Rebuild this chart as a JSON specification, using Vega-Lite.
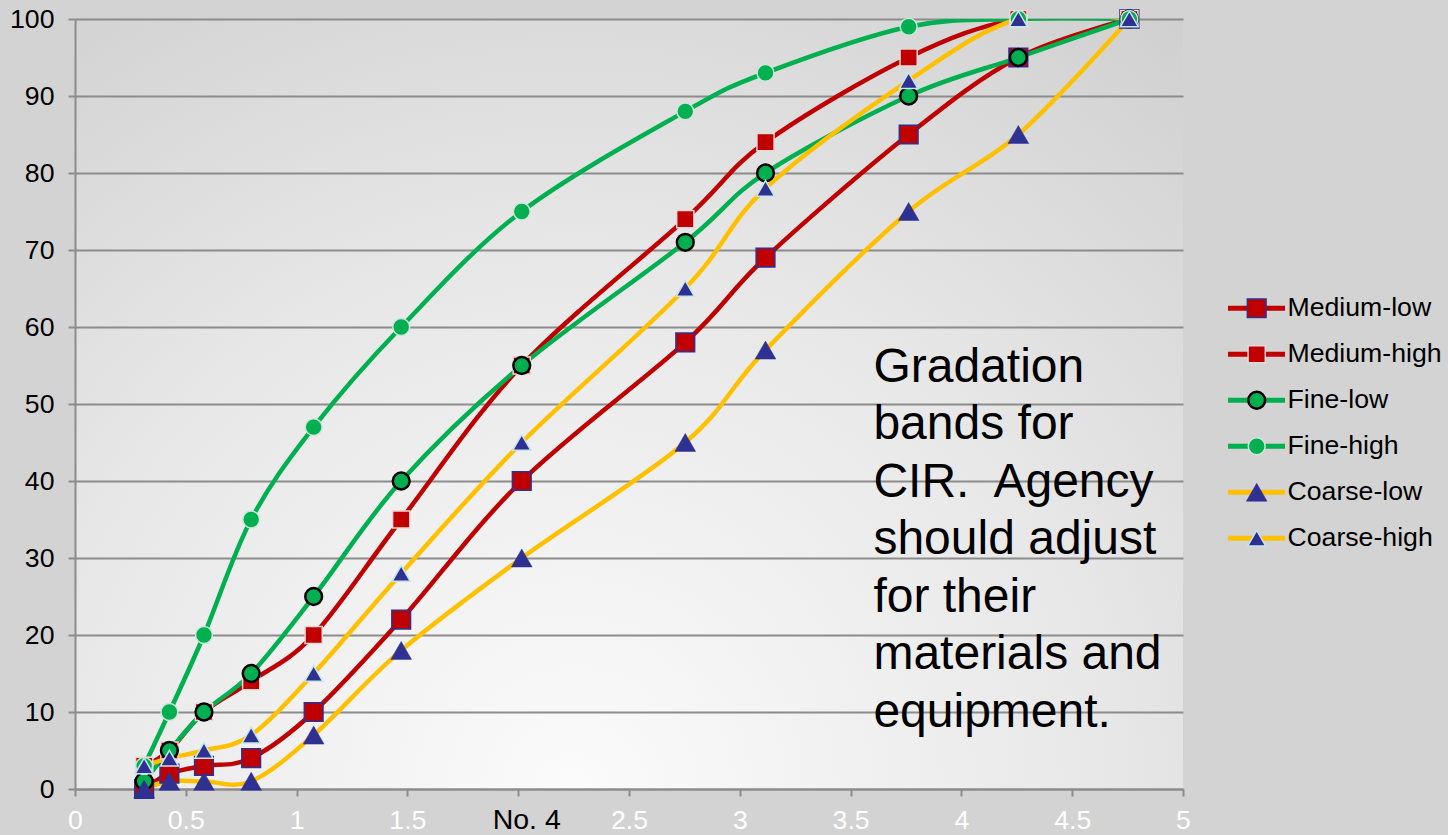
{
  "$schema": "https://vega.github.io/schema/vega-lite/v6.json",
  "width": 1108,
  "height": 770,
  "autosize": {"type": "none"},
  "padding": {"left": 75, "top": 19, "right": 265, "bottom": 46},
  "background": "#d3d3d3",
  "view": {
    "stroke": null,
    "fill": {
      "gradient": "radial",
      "x1": 0.45, "y1": 0.85, "r1": 0,
      "x2": 0.45, "y2": 0.85, "r2": 1.05,
      "stops": [
        {"offset": 0, "color": "#fbfbfb"},
        {"offset": 0.45, "color": "#e8e8e8"},
        {"offset": 1, "color": "#c6c6c6"}
      ]
    }
  },
  "config": {"font": "Liberation Sans"},
  "data": {
    "values": [
      {"series": "Medium-low", "x": 0.312, "y": 0},
      {"series": "Medium-low", "x": 0.426, "y": 2},
      {"series": "Medium-low", "x": 0.582, "y": 3},
      {"series": "Medium-low", "x": 0.795, "y": 4},
      {"series": "Medium-low", "x": 1.077, "y": 10},
      {"series": "Medium-low", "x": 1.472, "y": 22},
      {"series": "Medium-low", "x": 2.016, "y": 40},
      {"series": "Medium-low", "x": 2.754, "y": 58},
      {"series": "Medium-low", "x": 3.116, "y": 69},
      {"series": "Medium-low", "x": 3.762, "y": 85},
      {"series": "Medium-low", "x": 4.257, "y": 95},
      {"series": "Medium-low", "x": 4.758, "y": 100},
      {"series": "Medium-high", "x": 0.312, "y": 3},
      {"series": "Medium-high", "x": 0.426, "y": 5},
      {"series": "Medium-high", "x": 0.582, "y": 10},
      {"series": "Medium-high", "x": 0.795, "y": 14},
      {"series": "Medium-high", "x": 1.077, "y": 20},
      {"series": "Medium-high", "x": 1.472, "y": 35},
      {"series": "Medium-high", "x": 2.016, "y": 55},
      {"series": "Medium-high", "x": 2.754, "y": 74},
      {"series": "Medium-high", "x": 3.116, "y": 84},
      {"series": "Medium-high", "x": 3.762, "y": 95},
      {"series": "Medium-high", "x": 4.257, "y": 100},
      {"series": "Medium-high", "x": 4.758, "y": 100},
      {"series": "Fine-low", "x": 0.312, "y": 1},
      {"series": "Fine-low", "x": 0.426, "y": 5},
      {"series": "Fine-low", "x": 0.582, "y": 10},
      {"series": "Fine-low", "x": 0.795, "y": 15},
      {"series": "Fine-low", "x": 1.077, "y": 25},
      {"series": "Fine-low", "x": 1.472, "y": 40},
      {"series": "Fine-low", "x": 2.016, "y": 55},
      {"series": "Fine-low", "x": 2.754, "y": 71},
      {"series": "Fine-low", "x": 3.116, "y": 80},
      {"series": "Fine-low", "x": 3.762, "y": 90},
      {"series": "Fine-low", "x": 4.257, "y": 95},
      {"series": "Fine-low", "x": 4.758, "y": 100},
      {"series": "Fine-high", "x": 0.312, "y": 3},
      {"series": "Fine-high", "x": 0.426, "y": 10},
      {"series": "Fine-high", "x": 0.582, "y": 20},
      {"series": "Fine-high", "x": 0.795, "y": 35},
      {"series": "Fine-high", "x": 1.077, "y": 47},
      {"series": "Fine-high", "x": 1.472, "y": 60},
      {"series": "Fine-high", "x": 2.016, "y": 75},
      {"series": "Fine-high", "x": 2.754, "y": 88},
      {"series": "Fine-high", "x": 3.116, "y": 93},
      {"series": "Fine-high", "x": 3.762, "y": 99},
      {"series": "Fine-high", "x": 4.257, "y": 100},
      {"series": "Fine-high", "x": 4.758, "y": 100},
      {"series": "Coarse-low", "x": 0.312, "y": 0},
      {"series": "Coarse-low", "x": 0.426, "y": 1},
      {"series": "Coarse-low", "x": 0.582, "y": 1},
      {"series": "Coarse-low", "x": 0.795, "y": 1},
      {"series": "Coarse-low", "x": 1.077, "y": 7},
      {"series": "Coarse-low", "x": 1.472, "y": 18},
      {"series": "Coarse-low", "x": 2.016, "y": 30},
      {"series": "Coarse-low", "x": 2.754, "y": 45},
      {"series": "Coarse-low", "x": 3.116, "y": 57},
      {"series": "Coarse-low", "x": 3.762, "y": 75},
      {"series": "Coarse-low", "x": 4.257, "y": 85},
      {"series": "Coarse-low", "x": 4.758, "y": 100},
      {"series": "Coarse-high", "x": 0.312, "y": 3},
      {"series": "Coarse-high", "x": 0.426, "y": 4},
      {"series": "Coarse-high", "x": 0.582, "y": 5},
      {"series": "Coarse-high", "x": 0.795, "y": 7},
      {"series": "Coarse-high", "x": 1.077, "y": 15},
      {"series": "Coarse-high", "x": 1.472, "y": 28},
      {"series": "Coarse-high", "x": 2.016, "y": 45},
      {"series": "Coarse-high", "x": 2.754, "y": 65},
      {"series": "Coarse-high", "x": 3.116, "y": 78},
      {"series": "Coarse-high", "x": 3.762, "y": 92},
      {"series": "Coarse-high", "x": 4.257, "y": 100},
      {"series": "Coarse-high", "x": 4.758, "y": 100}
    ]
  },
  "layer": [
    {
      "mark": {"type": "line", "interpolate": "cardinal", "strokeWidth": 4.5, "strokeCap": "round", "strokeJoin": "round", "clip": true},
      "encoding": {
        "x": {
          "field": "x", "type": "quantitative",
          "scale": {"domain": [0, 5], "nice": false, "zero": false},
          "axis": {
            "title": null,
            "values": [0, 0.5, 1, 1.5, 2, 2.5, 3, 3.5, 4, 4.5, 5],
            "labelExpr": "datum.value == 2 ? 'No. 4' : '' + datum.value",
            "labelColor": {"condition": {"test": "datum.value == 2", "value": "#000000"}, "value": "#ffffff"},
            "labelFontSize": {"condition": {"test": "datum.value == 2", "value": 28.5}, "value": 26.67},
            "labelOffset": {"condition": {"test": "datum.value == 2", "value": 8}, "value": 0},
            "labelBaseline": "alphabetic",
            "labelPadding": 32,
            "labelFlush": false,
            "labelOverlap": false,
            "grid": false,
            "tickSize": 7,
            "tickWidth": 2,
            "tickColor": "#8c8c8c",
            "domainColor": "#8c8c8c",
            "domainWidth": 2
          }
        },
        "y": {
          "field": "y", "type": "quantitative",
          "scale": {"domain": [0, 100], "nice": false},
          "axis": {
            "title": null,
            "values": [0, 10, 20, 30, 40, 50, 60, 70, 80, 90, 100],
            "labelFontSize": 26.67,
            "labelColor": "#000000",
            "labelPadding": 14,
            "labelFlush": false,
            "labelOverlap": false,
            "grid": true,
            "gridColor": "#8c8c8c",
            "gridWidth": 2,
            "tickSize": 7,
            "tickWidth": 2,
            "tickColor": "#8c8c8c",
            "domainColor": "#8c8c8c",
            "domainWidth": 2
          }
        },
        "stroke": {
          "field": "series", "type": "nominal",
          "scale": {
            "domain": ["Medium-low", "Medium-high", "Fine-low", "Fine-high", "Coarse-low", "Coarse-high"],
            "range": ["#C00000", "#C00000", "#00B050", "#00B050", "#FFC000", "#FFC000"]
          },
          "legend": {
            "title": null,
            "orient": "none",
            "direction": "vertical",
            "legendX": 1150.5,
            "legendY": 266.5,
            "padding": 0,
            "symbolType": "stroke",
            "symbolSize": 3249,
            "symbolStrokeWidth": 5,
            "clipHeight": 45.5,
            "rowPadding": 0,
            "labelFontSize": 26.67,
            "labelColor": "#000000",
            "labelOffset": 0,
            "labelLimit": 300
          }
        }
      }
    },
    {
      "mark": {"type": "point", "filled": true, "opacity": 1},
      "encoding": {
        "x": {"field": "x", "type": "quantitative", "scale": {"domain": [0, 5], "nice": false, "zero": false}},
        "y": {"field": "y", "type": "quantitative", "scale": {"domain": [0, 100], "nice": false}},
        "shape": {
          "field": "series", "type": "nominal",
          "scale": {
            "domain": ["Medium-low", "Medium-high", "Fine-low", "Fine-high", "Coarse-low", "Coarse-high"],
            "range": ["square", "square", "circle", "circle", "triangle-up", "triangle-up"]
          },
          "legend": {
            "title": null,
            "orient": "none",
            "direction": "vertical",
            "legendX": 1169.7,
            "legendY": 266.5,
            "padding": 0,
            "clipHeight": 45.5,
            "rowPadding": 0,
            "symbolOffset": 0,
            "labelFontSize": 24,
            "labelOpacity": 0,
            "labelExpr": "''"
          }
        },
        "fill": {
          "field": "series", "type": "nominal",
          "scale": {
            "domain": ["Medium-low", "Medium-high", "Fine-low", "Fine-high", "Coarse-low", "Coarse-high"],
            "range": ["#C00000", "#C00000", "#00B050", "#00B050", "#2E3192", "#2E3192"]
          }
        },
        "stroke": {
          "field": "series", "type": "nominal",
          "scale": {
            "domain": ["Medium-low", "Medium-high", "Fine-low", "Fine-high", "Coarse-low", "Coarse-high"],
            "range": ["#2E3192", "#ecd8d8", "#000000", "#cde6d9", "#2E3192", "#c5e6ee"]
          }
        },
        "size": {
          "field": "series", "type": "nominal",
          "scale": {
            "type": "ordinal",
            "domain": ["Medium-low", "Medium-high", "Fine-low", "Fine-high", "Coarse-low", "Coarse-high"],
            "range": [350, 295, 282, 285, 430, 330]
          }
        },
        "strokeWidth": {
          "field": "series", "type": "nominal",
          "scale": {
            "type": "ordinal",
            "domain": ["Medium-low", "Medium-high", "Fine-low", "Fine-high", "Coarse-low", "Coarse-high"],
            "range": [1.5, 1.5, 2.5, 1.5, 0.5, 1.5]
          }
        }
      }
    },
    {
      "data": {"values": [{"note": "Gradation\nbands for\nCIR.\u00a0 Agency\nshould adjust\nfor their\nmaterials and\nequipment."}]},
      "mark": {"type": "text", "align": "left", "baseline": "alphabetic", "fontSize": 48, "lineHeight": 57.5, "lineBreak": "\n", "color": "#000000"},
      "encoding": {
        "x": {"datum": 3.603, "type": "quantitative", "scale": {"domain": [0, 5], "nice": false, "zero": false}},
        "y": {"datum": 52.86, "type": "quantitative", "scale": {"domain": [0, 100], "nice": false}},
        "text": {"field": "note"}
      }
    }
  ],
  "resolve": {
    "scale": {"stroke": "independent", "shape": "independent", "fill": "independent", "size": "independent", "strokeWidth": "independent"}
  }
}
